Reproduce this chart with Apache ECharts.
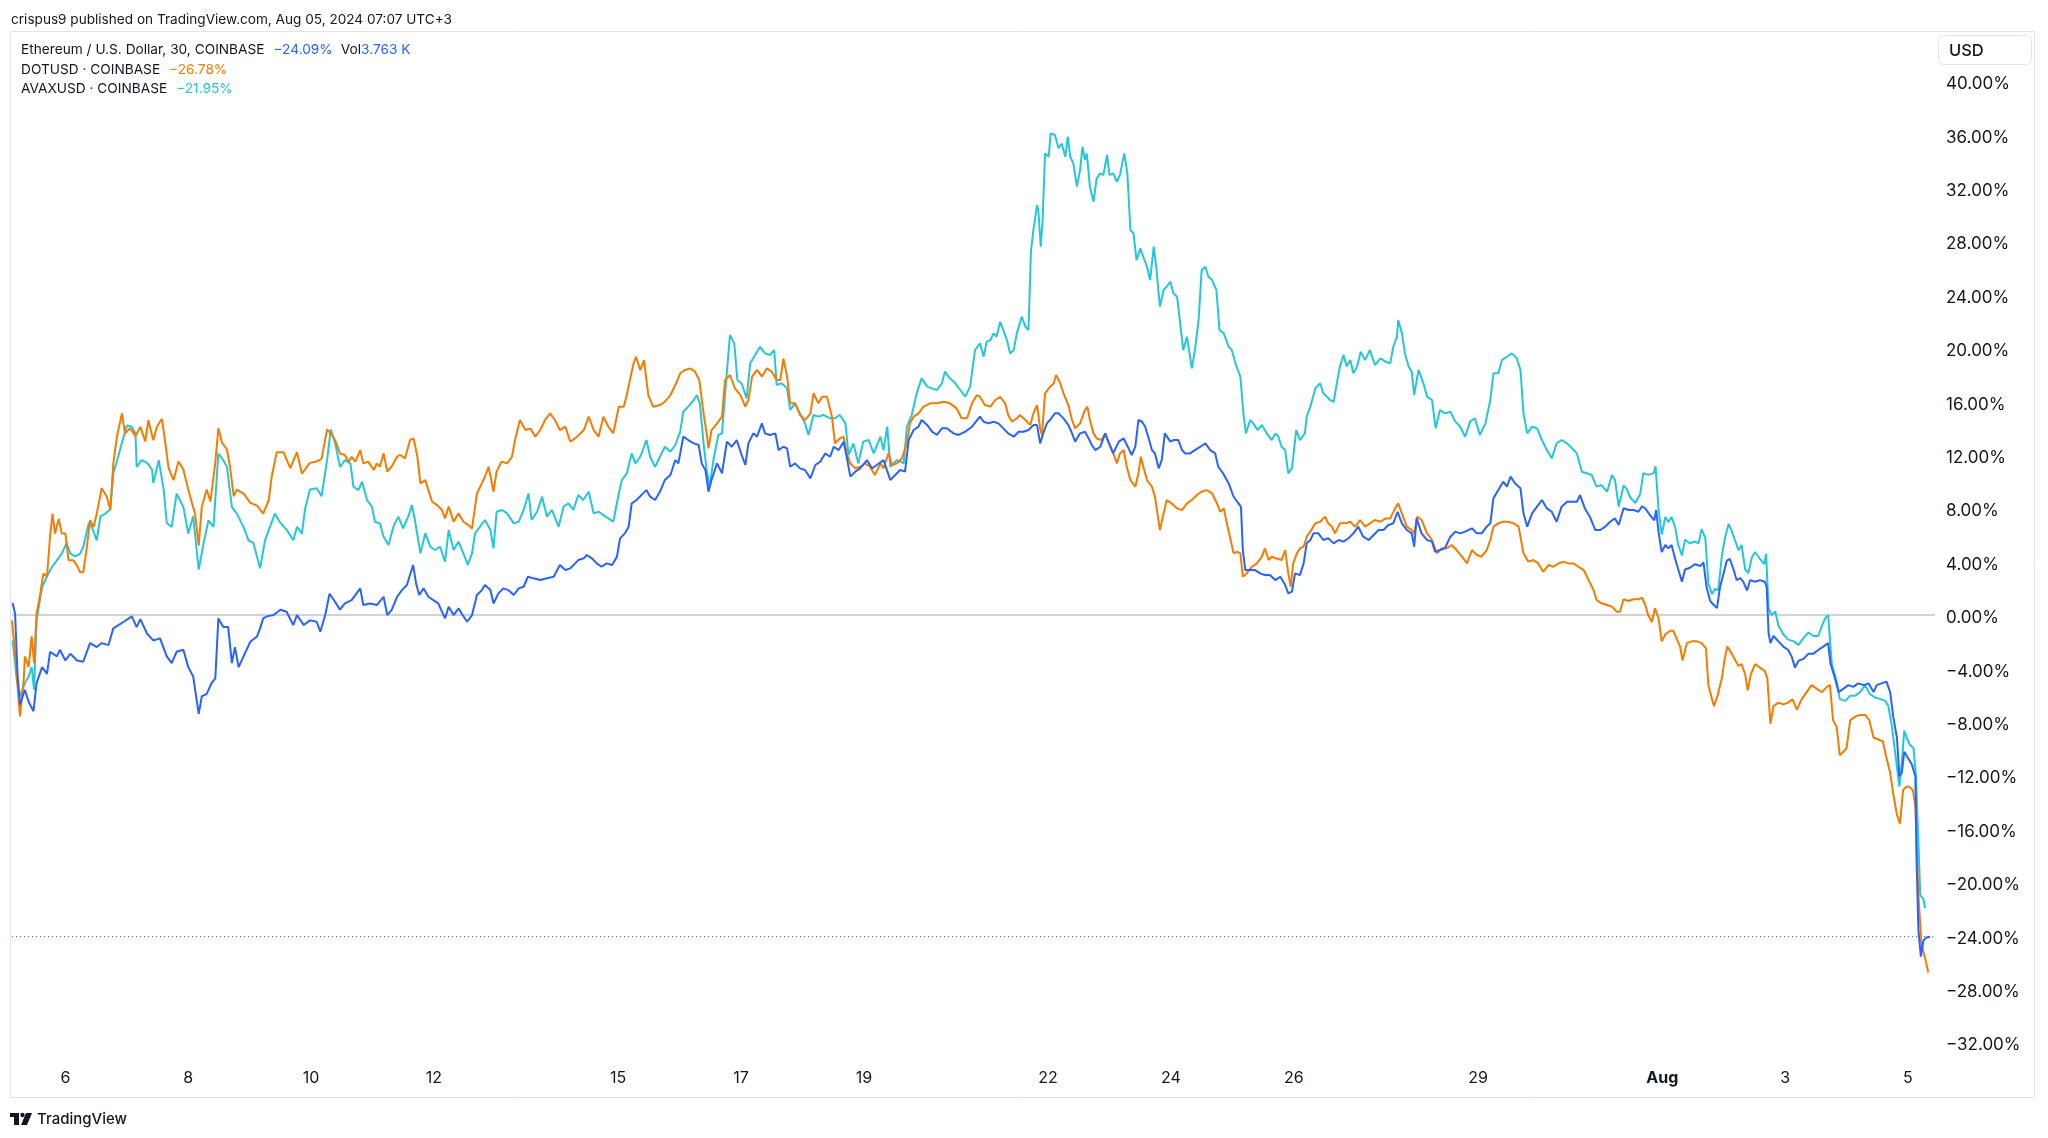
<!DOCTYPE html>
<html><head><meta charset="utf-8">
<script src="https://cdn.jsdelivr.net/npm/echarts@6/dist/echarts.min.js"></script>
<style>html,body{margin:0;padding:0;background:#fff}#c{width:2048px;height:1138px}</style>
</head><body><div id="c"></div>
<script>
// x = day of July 2024 (fractional, UTC+3), 32 = Aug 1; y = % change
const ethData = [[5.14,0.9],[5.18,0.1],[5.22,-4.4],[5.26,-6.7],[5.34,-5.6],[5.40,-6.5],[5.48,-7.2],[5.53,-5.1],[5.62,-3.9],[5.70,-4.4],[5.75,-2.75],[5.86,-3.1],[5.91,-2.6],[6.00,-3.4],[6.08,-2.9],[6.19,-3.4],[6.29,-3.5],[6.40,-2.1],[6.51,-2.4],[6.59,-2.1],[6.70,-2.25],[6.78,-1.0],[6.95,-0.5],[7.08,-0.1],[7.16,-0.9],[7.22,-0.3],[7.33,-1.4],[7.43,-1.9],[7.54,-1.75],[7.65,-3.1],[7.73,-3.6],[7.81,-2.75],[7.92,-2.6],[8.00,-3.9],[8.08,-4.6],[8.17,-7.4],[8.22,-6.1],[8.30,-5.9],[8.38,-5.1],[8.44,-4.75],[8.49,-0.25],[8.57,-0.9],[8.65,-0.9],[8.71,-3.6],[8.76,-2.4],[8.82,-3.9],[8.90,-3.1],[9.01,-2.0],[9.12,-1.6],[9.17,-1.0],[9.22,-0.25],[9.28,-0.1],[9.39,0.0],[9.50,0.4],[9.60,0.25],[9.71,-0.75],[9.77,0.0],[9.88,-0.75],[9.98,-0.4],[10.09,-0.5],[10.15,-1.25],[10.23,0.0],[10.30,1.6],[10.39,1.0],[10.47,0.4],
[10.55,0.87],[10.66,1.12],[10.80,2.0],[10.85,0.75],[10.96,0.87],[11.07,0.75],[11.18,1.37],[11.24,0.0],[11.31,0.37],[11.40,1.37],[11.48,1.87],[11.56,2.25],[11.66,3.75],[11.71,2.37],[11.76,1.5],[11.83,2.0],[11.91,1.37],[11.99,1.12],[12.07,0.87],[12.18,-0.25],[12.24,0.62],[12.32,0.0],[12.40,0.5],[12.45,0.12],[12.54,-0.5],[12.62,0.0],[12.70,1.5],[12.78,1.87],[12.83,2.25],[12.92,1.87],[12.97,0.87],[13.05,1.62],[13.13,2.0],[13.21,1.87],[13.30,1.5],[13.38,2.0],[13.46,2.12],[13.53,2.87],[13.62,2.75],[13.73,2.62],[13.84,2.75],[13.95,2.87],[14.05,3.75],[14.14,3.37],[14.22,3.5],[14.30,3.87],[14.35,4.12],[14.44,4.25],[14.49,4.5],[14.57,4.25],[14.65,3.87],[14.73,3.62],[14.81,3.87],[14.90,3.75],[14.98,4.37],[15.03,5.74],[15.11,6.12],[15.17,6.62],[15.22,8.37],[15.30,8.62],[15.38,9.0],[15.46,9.36],[15.52,8.87],[15.60,8.62],[15.68,9.24],
[15.76,10.12],[15.85,10.49],[15.93,11.61],[15.98,11.36],[16.06,13.36],[16.14,13.11],[16.23,12.86],[16.31,12.74],[16.36,11.36],[16.42,10.87],[16.47,9.24],[16.52,10.12],[16.61,11.36],[16.69,10.62],[16.77,12.99],[16.85,12.61],[16.93,13.11],[17.01,11.99],[17.07,11.24],[17.12,12.86],[17.20,13.61],[17.26,13.36],[17.34,14.36],[17.39,13.61],[17.47,13.49],[17.56,13.61],[17.61,12.36],[17.69,12.61],[17.75,12.49],[17.80,11.11],[17.88,11.36],[17.96,10.99],[18.04,10.87],[18.13,10.24],[18.21,11.24],[18.29,11.49],[18.37,12.11],[18.45,11.86],[18.51,12.61],[18.59,12.36],[18.67,12.99],[18.72,11.86],[18.78,10.37],[18.86,10.74],[18.94,10.99],[19.05,11.61],[19.13,10.99],[19.21,11.24],[19.32,11.61],[19.43,10.12],[19.51,10.49],[19.59,10.87],[19.67,10.74],[19.73,13.11],[19.81,13.86],[19.89,14.11],[19.94,14.61],[20.03,14.24],[20.11,13.74],[20.19,13.49],[20.27,13.99],[20.35,13.99],[20.46,13.61],[20.54,13.49],[20.65,13.74],[20.76,14.11],[20.89,14.86],
[20.95,14.48],[21.03,14.36],[21.11,14.48],[21.19,14.36],[21.27,13.98],[21.35,13.61],[21.44,13.36],[21.52,13.73],[21.60,13.73],[21.68,13.86],[21.76,14.23],[21.82,14.23],[21.87,12.86],[21.92,13.61],[21.98,14.36],[22.03,14.61],[22.11,15.11],[22.17,15.11],[22.25,14.73],[22.33,14.23],[22.39,13.61],[22.44,12.99],[22.52,13.61],[22.60,13.73],[22.66,13.23],[22.71,12.74],[22.77,12.36],[22.85,12.61],[22.93,13.61],[22.98,12.99],[23.06,12.11],[23.15,12.99],[23.23,13.23],[23.31,12.49],[23.36,11.99],[23.42,12.61],[23.47,14.61],[23.53,14.48],[23.58,14.11],[23.63,13.36],[23.69,12.36],[23.74,12.11],[23.80,10.99],[23.85,11.61],[23.90,13.61],[23.99,12.99],[24.04,13.11],[24.12,13.11],[24.18,12.36],[24.23,12.11],[24.31,12.11],[24.39,12.36],[24.48,12.61],[24.56,12.86],[24.64,12.36],[24.72,12.11],[24.77,11.11],[24.85,10.61],[24.94,9.86],[25.02,8.86],[25.10,8.36],[25.14,8.11],[25.17,4.87],[25.21,3.37],[25.29,3.37],[25.37,3.37],[25.45,3.12],[25.53,3.0],[25.61,3.0],[25.70,2.62],[25.78,2.87],[25.86,2.25],[25.91,1.62],[25.97,1.75],[26.02,3.12],[26.10,2.99],
[26.16,3.87],[26.21,5.37],[26.27,5.62],[26.32,6.12],[26.40,6.12],[26.48,5.62],[26.56,5.75],[26.65,5.37],[26.73,5.62],[26.81,5.5],[26.89,5.75],[26.97,6.12],[27.05,6.62],[27.13,5.87],[27.22,5.62],[27.30,6.0],[27.38,6.37],[27.46,6.37],[27.54,6.75],[27.62,6.87],[27.69,7.74],[27.76,6.87],[27.84,6.37],[27.92,6.12],[27.96,5.12],[28.00,7.24],[28.08,6.12],[28.17,5.62],[28.25,5.5],[28.30,4.75],[28.38,4.87],[28.46,5.0],[28.55,5.87],[28.63,6.25],[28.71,6.12],[28.79,6.25],[28.90,6.5],[28.98,6.12],[29.06,6.12],[29.14,6.62],[29.20,6.87],[29.25,8.74],[29.33,9.37],[29.41,9.99],[29.47,9.62],[29.53,10.37],[29.60,9.87],[29.69,9.5],[29.74,7.62],[29.80,6.62],[29.88,7.62],[29.96,8.12],[30.04,8.62],[30.12,7.99],[30.20,7.74],[30.28,6.99],[30.36,8.12],[30.45,8.49],[30.53,8.49],[30.61,8.49],[30.66,8.99],[30.74,7.99],[30.82,7.37],[30.91,6.37],[30.99,6.37],[31.07,6.62],[31.15,6.99],[31.23,7.24],[31.29,6.75],
[31.37,8.0],[31.45,7.87],[31.53,7.87],[31.61,7.74],[31.67,8.14],[31.72,8.0],[31.80,7.48],[31.87,7.09],[31.90,7.87],[31.94,6.17],[31.99,4.72],[32.05,5.25],[32.10,4.99],[32.15,5.25],[32.21,4.2],[32.26,3.41],[32.32,2.49],[32.37,3.41],[32.45,3.54],[32.53,3.81],[32.62,3.67],[32.67,3.94],[32.72,2.1],[32.78,1.05],[32.83,0.79],[32.89,0.52],[32.94,2.1],[33.00,3.15],[33.05,4.07],[33.10,4.2],[33.16,3.41],[33.21,2.62],[33.27,2.76],[33.32,2.49],[33.38,1.84],[33.43,2.62],[33.51,2.49],[33.59,2.62],[33.67,2.49],[33.70,2.1],[33.73,-1.31],[33.76,-2.1],[33.81,-1.57],[33.89,-1.97],[33.97,-2.36],[34.05,-2.62],[34.11,-3.15],[34.16,-3.94],[34.22,-3.41],[34.30,-3.28],[34.38,-2.89],[34.46,-2.89],[34.54,-2.62],[34.62,-2.36],[34.70,-2.1],[34.74,-3.67],[34.81,-4.72],[34.87,-5.77],[34.95,-5.51],[35.03,-5.25],[35.11,-5.38],[35.19,-5.12],[35.28,-5.25],[35.36,-5.12],[35.44,-5.77],[35.49,-5.25],[35.57,-5.12],[35.65,-4.99],[35.71,-5.77],[35.76,-7.61],[35.82,-9.19],[35.86,-12.07],[35.90,-11.81],[35.94,-10.24],[35.99,-10.63],[36.06,-11.15],[36.12,-12.07],[36.14,-18.37],[36.17,-23.62],[36.21,-25.59],[36.25,-24.41],[36.30,-24.15],[36.33,-24.02],[36.36,-24.09]];

const dotData = [[5.13,-0.4],[5.17,-2.4],[5.26,-7.6],[5.32,-4.9],[5.34,-3.1],[5.40,-3.9],[5.45,-1.6],[5.49,-3.6],[5.53,0.1],[5.59,1.6],[5.64,3.1],[5.70,2.9],[5.75,5.9],[5.79,7.6],[5.83,6.1],[5.89,7.2],[5.94,6.1],[6.00,6.1],[6.05,4.1],[6.13,4.1],[6.19,3.7],[6.24,3.2],[6.29,3.2],[6.35,5.1],[6.40,7.1],[6.46,6.6],[6.51,7.6],[6.59,9.5],[6.67,8.9],[6.73,7.9],[6.78,11.4],[6.84,13.4],[6.92,15.1],[6.97,13.6],[7.05,14.0],[7.14,13.4],[7.22,14.1],[7.30,13.0],[7.35,14.6],[7.43,13.1],[7.49,14.1],[7.57,14.7],[7.62,13.1],[7.68,11.0],[7.76,10.1],[7.84,11.5],[7.92,10.9],[8.00,9.4],[8.06,8.4],[8.11,7.6],[8.17,5.2],[8.22,8.1],[8.30,9.4],[8.36,8.5],[8.44,11.4],[8.49,14.0],[8.55,12.9],[8.63,12.4],[8.68,11.1],[8.74,8.9],[8.79,9.4],[8.90,9.1],[9.01,8.4],[9.12,8.2],[9.22,7.6],[9.31,8.6],[9.36,10.4],[9.44,12.2],[9.55,12.2],[9.66,11.0],[9.77,12.2],[9.85,10.6],[9.98,11.4],[10.09,11.5],[10.17,11.7],[10.26,13.9],[10.34,13.5],[10.39,13.1],[10.47,12.1],
[10.55,11.99],[10.61,11.49],[10.66,11.86],[10.72,11.49],[10.80,12.36],[10.85,11.36],[10.93,11.49],[11.02,10.86],[11.07,11.36],[11.12,11.11],[11.18,12.11],[11.24,10.74],[11.31,11.11],[11.40,11.86],[11.45,11.99],[11.53,11.74],[11.61,13.11],[11.67,13.23],[11.73,11.86],[11.78,9.86],[11.86,10.11],[11.91,9.36],[11.97,8.49],[12.05,8.24],[12.13,7.87],[12.18,7.24],[12.24,8.12],[12.32,6.99],[12.40,7.62],[12.48,6.99],[12.56,6.74],[12.62,6.49],[12.70,9.11],[12.78,9.86],[12.83,10.36],[12.89,11.11],[12.97,9.24],[13.02,10.74],[13.10,11.49],[13.19,11.36],[13.27,11.86],[13.32,13.11],[13.40,14.61],[13.49,13.86],[13.57,13.98],[13.65,13.36],[13.73,13.86],[13.81,14.61],[13.89,15.1],[13.97,14.61],[14.05,13.86],[14.14,14.11],[14.22,12.98],[14.33,13.36],[14.44,13.86],[14.52,14.86],[14.60,13.86],[14.68,13.36],[14.76,14.86],[14.84,14.11],[14.92,13.61],[15.01,15.6],[15.09,15.6],[15.14,16.48],[15.19,17.6],[15.25,18.85],[15.29,19.35],[15.36,18.35],[15.42,19.1],[15.49,16.48],[15.57,15.6],[15.68,15.73],
[15.76,15.98],[15.85,16.48],[15.93,17.23],[16.01,18.11],[16.09,18.36],[16.17,18.48],[16.25,18.23],[16.32,17.61],[16.39,15.11],[16.44,13.61],[16.47,12.49],[16.52,13.86],[16.61,14.36],[16.69,14.86],[16.74,17.61],[16.82,17.98],[16.90,16.98],[16.99,16.48],[17.07,15.61],[17.12,16.11],[17.18,17.86],[17.26,18.36],[17.34,17.86],[17.42,18.48],[17.50,18.23],[17.58,17.61],[17.64,17.61],[17.69,19.23],[17.75,17.86],[17.80,15.86],[17.88,15.86],[17.96,14.99],[18.04,14.61],[18.13,15.11],[18.18,16.61],[18.26,15.86],[18.32,16.36],[18.40,16.36],[18.48,14.86],[18.53,12.86],[18.61,13.24],[18.67,13.36],[18.72,12.11],[18.78,11.36],[18.86,10.99],[18.94,11.11],[19.02,11.36],[19.10,11.11],[19.18,10.49],[19.27,11.36],[19.32,10.99],[19.40,12.11],[19.46,11.24],[19.54,11.36],[19.62,11.74],[19.70,12.86],[19.75,14.36],[19.81,14.86],[19.89,15.11],[19.97,15.61],[20.08,15.86],[20.19,15.86],[20.30,15.98],[20.40,15.86],[20.51,15.48],[20.59,14.74],[20.68,14.74],[20.76,15.86],[20.84,16.48],[20.89,16.36],
[20.97,15.73],[21.06,15.61],[21.14,16.11],[21.22,16.35],[21.30,15.86],[21.35,14.98],[21.41,14.48],[21.49,14.73],[21.54,14.98],[21.63,14.61],[21.71,14.23],[21.76,15.11],[21.82,15.73],[21.87,13.98],[21.90,13.48],[21.95,16.6],[22.03,17.1],[22.09,17.35],[22.13,17.98],[22.20,17.35],[22.25,16.6],[22.33,15.73],[22.39,14.61],[22.44,13.98],[22.52,14.36],[22.60,15.36],[22.64,15.61],[22.68,14.61],[22.74,13.61],[22.79,13.23],[22.87,13.11],[22.93,13.61],[22.98,12.99],[23.06,12.11],[23.12,11.36],[23.17,12.11],[23.23,12.36],[23.28,11.11],[23.34,10.11],[23.42,9.61],[23.47,10.61],[23.51,11.86],[23.55,11.11],[23.61,10.11],[23.69,9.61],[23.74,8.86],[23.82,6.37],[23.88,7.61],[23.93,8.61],[24.01,8.36],[24.10,7.99],[24.18,7.86],[24.26,8.36],[24.34,8.61],[24.42,8.99],[24.50,9.24],[24.58,9.36],[24.67,9.11],[24.75,8.36],[24.80,7.74],[24.86,7.99],[24.91,6.87],[24.96,5.87],[25.02,4.62],[25.07,4.74],[25.13,4.62],[25.17,2.87],[25.23,3.12],[25.32,3.62],[25.40,3.87],[25.48,4.37],[25.53,4.99],[25.59,4.12],[25.64,4.37],[25.72,4.24],[25.80,4.12],[25.86,4.87],[25.91,3.12],[25.95,2.12],[25.99,3.87],[26.05,4.62],[26.10,4.99],
[26.16,5.12],[26.21,5.87],[26.27,6.25],[26.35,6.87],[26.43,6.99],[26.51,7.37],[26.56,6.87],[26.62,6.62],[26.67,6.12],[26.75,6.87],[26.84,6.87],[26.92,6.99],[27.00,6.62],[27.08,7.12],[27.16,6.62],[27.24,6.87],[27.32,7.12],[27.41,6.99],[27.49,7.24],[27.57,7.24],[27.65,7.99],[27.70,8.37],[27.76,7.62],[27.84,6.62],[27.92,6.37],[27.96,6.12],[28.01,7.37],[28.08,7.12],[28.17,6.12],[28.25,5.62],[28.33,4.62],[28.41,5.0],[28.49,5.0],[28.57,5.25],[28.65,4.87],[28.74,4.37],[28.82,3.87],[28.90,4.87],[28.98,4.5],[29.06,4.37],[29.14,4.87],[29.20,5.62],[29.25,6.62],[29.33,6.87],[29.41,6.99],[29.49,6.99],[29.58,6.87],[29.66,6.62],[29.74,4.62],[29.82,4.0],[29.90,4.12],[29.98,3.87],[30.06,3.25],[30.15,3.75],[30.23,3.62],[30.31,3.87],[30.39,4.0],[30.47,3.87],[30.55,3.87],[30.63,3.62],[30.72,3.37],[30.80,2.62],[30.88,1.88],[30.93,1.13],[31.01,0.88],[31.10,0.75],[31.18,0.63],[31.26,0.25],[31.31,0.25],
[31.37,1.18],[31.45,1.05],[31.53,1.18],[31.61,1.18],[31.67,1.31],[31.72,0.79],[31.77,0.0],[31.83,-0.52],[31.88,0.52],[31.94,-0.26],[31.99,-1.97],[32.05,-1.44],[32.13,-1.18],[32.18,-1.18],[32.24,-1.84],[32.29,-2.36],[32.33,-3.41],[32.40,-2.1],[32.48,-1.97],[32.56,-1.97],[32.64,-2.1],[32.71,-2.49],[32.75,-5.25],[32.81,-6.3],[32.84,-6.82],[32.90,-6.04],[32.97,-4.72],[33.02,-3.15],[33.06,-2.36],[33.13,-2.89],[33.19,-3.41],[33.24,-3.81],[33.29,-3.67],[33.35,-4.46],[33.39,-5.64],[33.44,-4.46],[33.51,-3.67],[33.59,-3.94],[33.67,-4.2],[33.71,-4.72],[33.76,-8.14],[33.81,-6.82],[33.89,-6.56],[33.97,-6.69],[34.05,-6.56],[34.12,-6.3],[34.19,-7.09],[34.27,-6.3],[34.35,-5.77],[34.43,-5.25],[34.51,-5.51],[34.60,-5.77],[34.68,-5.38],[34.73,-5.25],[34.78,-7.87],[34.84,-8.4],[34.89,-10.5],[34.95,-10.24],[35.00,-9.97],[35.06,-7.87],[35.14,-7.61],[35.22,-7.48],[35.30,-7.48],[35.37,-7.87],[35.44,-9.19],[35.52,-9.32],[35.59,-9.45],[35.64,-10.5],[35.71,-11.81],[35.76,-13.39],[35.82,-14.96],[35.87,-15.62],[35.92,-13.12],[35.97,-12.86],[36.02,-12.86],[36.08,-13.12],[36.12,-14.3],[36.17,-21.0],[36.22,-24.67],[36.28,-25.72],[36.33,-26.78]];

const avaxData = [[5.14,-1.9],[5.21,-4.9],[5.26,-6.1],[5.34,-5.1],[5.40,-4.6],[5.45,-3.9],[5.49,-5.6],[5.53,-0.4],[5.62,2.1],[5.70,2.9],[5.78,3.6],[5.86,4.1],[5.94,4.6],[6.02,5.4],[6.08,4.6],[6.16,4.4],[6.24,4.6],[6.29,5.1],[6.38,6.9],[6.43,6.6],[6.51,5.6],[6.57,7.4],[6.65,7.6],[6.73,7.9],[6.78,10.6],[6.86,11.9],[6.95,13.4],[7.00,14.2],[7.08,14.1],[7.14,13.6],[7.16,11.1],[7.24,11.6],[7.33,11.4],[7.41,10.9],[7.43,9.9],[7.52,11.6],[7.60,9.4],[7.65,6.9],[7.73,6.6],[7.81,9.1],[7.92,8.1],[8.00,6.1],[8.08,7.4],[8.17,3.4],[8.25,5.4],[8.33,7.1],[8.41,6.6],[8.49,12.1],[8.57,11.6],[8.63,11.1],[8.71,8.1],[8.79,7.6],[8.90,6.6],[8.98,5.6],[9.06,5.4],[9.17,3.5],[9.25,5.6],[9.33,6.6],[9.41,7.6],[9.50,6.9],[9.60,6.4],[9.71,5.6],[9.77,6.6],[9.85,6.1],[9.90,7.9],[9.98,9.4],[10.09,9.5],[10.17,8.9],[10.26,11.6],[10.32,13.9],[10.39,12.9],[10.47,11.1],
[10.55,11.61],[10.64,11.36],[10.69,9.61],[10.77,9.36],[10.83,9.99],[10.91,8.62],[10.99,8.12],[11.04,6.99],[11.12,6.87],[11.18,5.87],[11.26,5.24],[11.34,6.62],[11.42,7.37],[11.50,6.49],[11.59,7.49],[11.64,8.24],[11.69,7.12],[11.78,4.62],[11.86,6.12],[11.94,5.12],[12.02,4.87],[12.10,5.12],[12.18,4.0],[12.24,6.37],[12.32,4.87],[12.40,5.49],[12.48,4.62],[12.55,3.75],[12.62,4.62],[12.67,6.12],[12.75,6.62],[12.83,7.12],[12.92,6.37],[12.97,4.99],[13.02,7.74],[13.11,7.87],[13.19,7.62],[13.30,6.87],[13.38,6.99],[13.46,7.87],[13.54,9.11],[13.59,7.12],[13.68,7.74],[13.76,8.87],[13.84,7.37],[13.92,7.87],[14.03,6.62],[14.11,8.12],[14.19,8.37],[14.27,7.87],[14.35,8.99],[14.43,8.62],[14.52,9.24],[14.60,7.62],[14.68,7.74],[14.76,7.49],[14.84,7.24],[14.92,6.99],[15.01,9.11],[15.06,10.11],[15.14,10.61],[15.22,12.11],[15.28,11.36],[15.36,11.86],[15.46,13.11],[15.52,11.86],[15.60,11.11],[15.68,11.86],
[15.76,12.61],[15.85,12.24],[15.93,12.74],[16.01,13.74],[16.06,15.23],[16.14,15.61],[16.23,16.11],[16.28,16.48],[16.33,15.86],[16.39,12.86],[16.44,10.87],[16.49,9.62],[16.55,11.61],[16.63,13.49],[16.69,13.61],[16.77,18.23],[16.82,20.98],[16.89,20.35],[16.94,17.61],[17.01,17.36],[17.09,16.23],[17.15,18.86],[17.23,19.48],[17.31,20.1],[17.39,19.6],[17.47,19.48],[17.54,19.85],[17.58,17.23],[17.66,17.36],[17.75,16.98],[17.80,15.36],[17.88,15.86],[17.96,15.11],[18.04,14.36],[18.10,13.49],[18.18,14.99],[18.26,14.86],[18.34,14.99],[18.45,14.74],[18.53,14.74],[18.61,14.99],[18.70,14.36],[18.75,11.99],[18.83,12.86],[18.91,11.36],[18.99,12.99],[19.08,13.11],[19.16,12.11],[19.27,13.36],[19.32,12.36],[19.38,14.11],[19.43,11.11],[19.54,11.61],[19.65,11.36],[19.70,14.11],[19.78,14.99],[19.86,16.61],[19.94,17.73],[20.03,17.11],[20.11,16.98],[20.19,16.86],[20.27,17.36],[20.32,18.23],[20.40,17.73],[20.49,17.36],[20.57,16.86],[20.65,16.36],[20.73,17.11],[20.81,19.85],[20.89,20.35],
[20.95,19.35],[21.00,20.48],[21.06,20.6],[21.11,21.1],[21.16,20.85],[21.22,21.97],[21.27,21.35],[21.33,20.6],[21.38,19.6],[21.44,19.85],[21.49,21.1],[21.57,22.35],[21.63,21.6],[21.68,21.35],[21.72,27.22],[21.76,28.84],[21.82,30.71],[21.84,30.34],[21.88,27.59],[21.91,29.59],[21.95,34.58],[22.01,34.33],[22.04,36.08],[22.11,35.96],[22.17,34.96],[22.22,35.33],[22.28,34.33],[22.32,35.83],[22.36,34.33],[22.41,33.83],[22.47,32.09],[22.52,33.33],[22.56,35.08],[22.60,34.08],[22.63,34.58],[22.68,32.09],[22.74,30.96],[22.79,32.71],[22.85,33.08],[22.90,32.96],[22.96,34.46],[23.00,32.96],[23.06,33.08],[23.12,32.46],[23.17,32.96],[23.24,34.58],[23.29,33.08],[23.34,28.84],[23.39,28.59],[23.44,26.59],[23.50,27.47],[23.55,26.84],[23.61,26.09],[23.66,25.09],[23.72,27.59],[23.76,26.09],[23.82,23.1],[23.88,24.35],[23.93,24.59],[23.99,24.97],[24.04,24.1],[24.10,23.85],[24.15,21.85],[24.20,19.85],[24.26,20.85],[24.34,18.48],[24.39,19.85],[24.45,22.1],[24.50,25.84],[24.56,26.09],[24.61,25.34],[24.67,25.09],[24.74,24.35],[24.79,21.35],[24.86,21.1],[24.94,20.1],[24.99,19.85],[25.05,18.85],[25.13,17.85],[25.18,15.11],[25.22,13.61],[25.29,14.61],[25.34,14.36],[25.41,13.86],[25.48,14.23],[25.56,13.61],[25.64,13.11],[25.70,13.61],[25.75,13.36],[25.80,12.61],[25.86,12.36],[25.91,10.61],[25.97,10.99],[26.04,13.86],[26.10,13.11],
[26.18,13.61],[26.21,14.86],[26.27,15.61],[26.35,16.98],[26.43,17.36],[26.48,16.61],[26.54,16.36],[26.59,16.11],[26.65,15.98],[26.70,17.36],[26.75,18.61],[26.81,19.48],[26.86,18.61],[26.92,19.1],[26.97,18.11],[27.03,18.61],[27.09,19.73],[27.16,19.1],[27.24,19.85],[27.32,18.73],[27.41,19.23],[27.49,18.98],[27.57,18.86],[27.62,20.1],[27.68,20.85],[27.70,22.1],[27.76,21.1],[27.81,19.6],[27.87,18.61],[27.92,18.23],[27.96,16.48],[28.03,18.36],[28.11,17.36],[28.17,16.36],[28.25,16.11],[28.31,13.99],[28.38,15.36],[28.46,15.11],[28.55,15.23],[28.63,14.49],[28.71,14.11],[28.79,13.36],[28.87,14.49],[28.95,14.74],[29.03,13.49],[29.12,14.36],[29.20,16.11],[29.25,18.11],[29.33,18.11],[29.39,19.1],[29.47,19.35],[29.55,19.6],[29.63,19.23],[29.69,18.36],[29.74,15.11],[29.80,13.61],[29.88,14.11],[29.96,13.99],[30.04,13.11],[30.12,12.36],[30.20,11.74],[30.28,12.86],[30.36,13.11],[30.45,12.86],[30.53,12.49],[30.61,12.11],[30.69,10.74],[30.77,10.62],[30.85,10.49],[30.93,9.62],[31.01,9.74],[31.10,9.24],[31.18,10.49],[31.23,10.12],[31.29,8.12],
[31.37,9.71],[31.42,9.45],[31.48,8.79],[31.56,8.4],[31.64,9.06],[31.69,10.63],[31.77,10.5],[31.86,10.63],[31.89,11.15],[31.94,7.87],[31.99,6.04],[32.05,7.35],[32.10,6.96],[32.15,7.35],[32.21,6.56],[32.26,5.25],[32.32,4.46],[32.37,5.64],[32.45,5.38],[32.53,5.51],[32.59,5.38],[32.64,6.43],[32.70,5.77],[32.75,2.36],[32.81,1.57],[32.86,1.97],[32.91,1.84],[32.97,4.46],[33.02,5.77],[33.08,6.82],[33.13,6.3],[33.19,5.51],[33.24,4.86],[33.29,5.25],[33.35,3.41],[33.40,3.15],[33.46,4.33],[33.51,4.72],[33.59,4.2],[33.66,3.81],[33.69,4.59],[33.73,0.52],[33.78,0.0],[33.84,0.26],[33.89,-0.79],[33.97,-1.44],[34.05,-1.84],[34.14,-1.97],[34.22,-2.23],[34.30,-1.71],[34.38,-1.31],[34.46,-1.57],[34.54,-1.57],[34.60,-0.79],[34.65,-0.26],[34.70,0.0],[34.76,-3.67],[34.84,-4.99],[34.89,-6.3],[34.98,-6.43],[35.06,-6.04],[35.14,-6.04],[35.22,-5.77],[35.30,-5.25],[35.38,-5.91],[35.46,-6.17],[35.55,-6.3],[35.63,-6.43],[35.68,-6.82],[35.74,-8.4],[35.79,-10.24],[35.86,-12.86],[35.90,-11.02],[35.94,-8.66],[35.98,-9.19],[36.03,-9.71],[36.09,-9.97],[36.13,-12.07],[36.17,-17.06],[36.20,-21.0],[36.25,-21.26],[36.28,-21.95]];

const xTickDays = [6,8,10,12,15,17,19,22,24,26,29,32,34,36];
const xTickLabels = ['6','8','10','12','15','17','19','22','24','26','29','Aug','3','5'];
const yTicks = [-32,-28,-24,-20,-16,-12,-8,-4,0,4,8,12,16,20,24,28,32,36,40];
const seriesNames = ['Ethereum / U.S. Dollar, 30, COINBASE','DOTUSD · COINBASE','AVAXUSD · COINBASE'];
const ethVolume = '3.763 K';
const titleText = 'crispus9 published on TradingView.com, Aug 05, 2024 07:07 UTC+3';

const X_MIN = 5.13, X_MAX = 36.44, Y_MIN = -33.18, Y_MAX = 43.75;
const C_ETH = '#2962FF', C_DOT = '#F57C00', C_AVAX = '#26C6DA', TXT = '#131722';
const FONT = 'Inter, "Noto Sans", sans-serif';
const LEG = 13.7;

function pct(v){ return (v < 0 ? '\u2212' : '') + Math.abs(v).toFixed(2) + '%'; }
const last = a => a[a.length - 1][1];

const chart = echarts.init(document.getElementById('c'), null, {renderer:'canvas'});
chart.setOption({
  animation: false,
  backgroundColor: '#ffffff',
  grid: {left: 12, right: 113, top: 31, bottom: 80, containLabel: false},
  xAxis: {
    type: 'value', min: X_MIN, max: X_MAX,
    axisLine: {show: false}, axisTick: {show: false}, splitLine: {show: false},
    axisLabel: {
      customValues: xTickDays, margin: 12, color: TXT, fontSize: 16, fontFamily: FONT,
      formatter: v => { const i = xTickDays.indexOf(Math.round(v)); const t = i >= 0 ? xTickLabels[i] : ''; return t === 'Aug' ? '{b|Aug}' : t; },
      rich: {b: {fontWeight: 'bold', fontSize: 16, fontFamily: FONT, color: TXT}}
    }
  },
  yAxis: {
    type: 'value', position: 'right', min: Y_MIN, max: Y_MAX,
    axisLine: {show: false}, axisTick: {show: false}, splitLine: {show: false},
    axisLabel: {customValues: yTicks, formatter: v => '{p|' + pct(v) + '}', margin: 11, align: 'left',
      rich: {p: {color: TXT, fontSize: 17, fontFamily: FONT, padding: [6, 0, 0, 0]}}}
  },
  series: [
    {type: 'line', z: 1, silent: true, showSymbol: false, data: [[X_MIN, 0], [X_MAX, 0]], lineStyle: {color: '#C3C5CC', width: 1.5}},
    {type: 'line', z: 1, silent: true, showSymbol: false, data: [[X_MIN, last(ethData)], [X_MAX, last(ethData)]], lineStyle: {color: C_ETH, width: 1, type: [1, 3]}},
    {name: seriesNames[2], type: 'line', z: 2, showSymbol: false, data: avaxData, lineStyle: {color: C_AVAX, width: 2}, itemStyle: {color: C_AVAX}},
    {name: seriesNames[1], type: 'line', z: 3, showSymbol: false, data: dotData, lineStyle: {color: C_DOT, width: 2}, itemStyle: {color: C_DOT}},
    {name: seriesNames[0], type: 'line', z: 4, showSymbol: false, data: ethData, lineStyle: {color: C_ETH, width: 2}, itemStyle: {color: C_ETH}}
  ],
  graphic: [
    {type: 'rect', silent: true, z: -1, shape: {x: 10.5, y: 31.5, width: 2024, height: 1066}, style: {fill: 'none', stroke: '#E0E3EB', lineWidth: 1}},
    {type: 'text', silent: true, style: {x: 11, y: 19.8, text: titleText, fontSize: 13.6, fontFamily: FONT, fill: TXT, verticalAlign: 'middle'}},
    {type: 'text', silent: true, style: {x: 21, y: 49.8, verticalAlign: 'middle',
      text: '{a|' + seriesNames[0] + '}{b|' + pct(last(ethData)) + '}{c|Vol}{d|' + ethVolume + '}',
      rich: {a: {fontSize: LEG, fontFamily: FONT, fill: TXT}, b: {fontSize: LEG, fontFamily: FONT, fill: C_ETH, padding: [0, 0, 0, 9]}, c: {fontSize: LEG, fontFamily: FONT, fill: TXT, padding: [0, 0, 0, 8]}, d: {fontSize: LEG, fontFamily: FONT, fill: C_ETH}}}},
    {type: 'text', silent: true, style: {x: 21, y: 69.5, verticalAlign: 'middle',
      text: '{a|' + seriesNames[1] + '}{b|' + pct(last(dotData)) + '}',
      rich: {a: {fontSize: LEG, fontFamily: FONT, fill: TXT}, b: {fontSize: LEG, fontFamily: FONT, fill: C_DOT, padding: [0, 0, 0, 9]}}}},
    {type: 'text', silent: true, style: {x: 21, y: 89, verticalAlign: 'middle',
      text: '{a|' + seriesNames[2] + '}{b|' + pct(last(avaxData)) + '}',
      rich: {a: {fontSize: LEG, fontFamily: FONT, fill: TXT}, b: {fontSize: LEG, fontFamily: FONT, fill: C_AVAX, padding: [0, 0, 0, 9]}}}},
    {type: 'rect', silent: true, shape: {x: 1938.5, y: 35.5, width: 93, height: 29, r: 5}, style: {fill: '#fff', stroke: '#E0E3EB', lineWidth: 1}},
    {type: 'text', silent: true, style: {x: 1949, y: 51, text: 'USD', fontSize: 16.5, fontWeight: 500, fontFamily: FONT, fill: TXT, verticalAlign: 'middle'}},
    {type: 'group', silent: true, children: [
      {type: 'rect', shape: {x: 10, y: 1113, width: 9, height: 4}, style: {fill: TXT}},
      {type: 'rect', shape: {x: 14, y: 1113, width: 5, height: 12}, style: {fill: TXT}},
      {type: 'circle', shape: {cx: 22.5, cy: 1115, r: 2.2}, style: {fill: TXT}},
      {type: 'polygon', shape: {points: [[26, 1113], [32, 1113], [27, 1125], [21, 1125]]}, style: {fill: TXT}}
    ]},
    {type: 'text', silent: true, style: {x: 37, y: 1119.5, text: 'TradingView', fontSize: 15, fontWeight: 500, fontFamily: FONT, fill: TXT, verticalAlign: 'middle'}}
  ]
});
</script>
</body></html>
